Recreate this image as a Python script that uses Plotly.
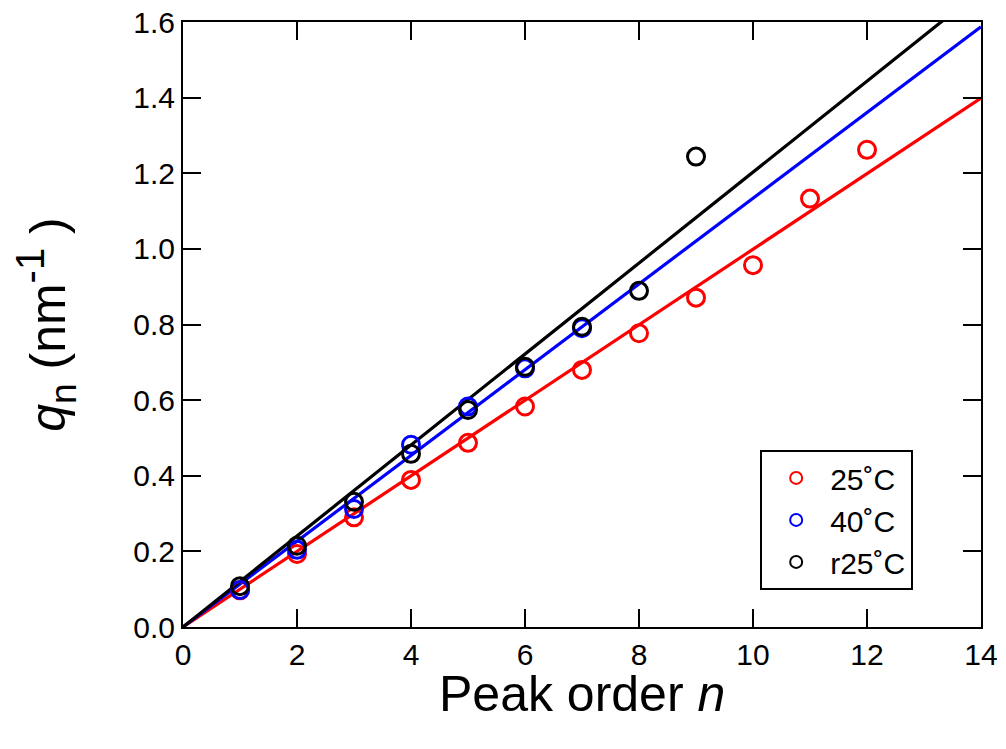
import plotly.graph_objects as go

# Data
n_25 = [1, 2, 3, 4, 5, 6, 7, 8, 9, 10, 11, 12]
q_25 = [0.097, 0.193, 0.290, 0.389, 0.487, 0.583, 0.680, 0.777, 0.871, 0.957, 1.133, 1.262]
n_40 = [1, 2, 3, 4, 5, 6, 7]
q_40 = [0.098, 0.204, 0.312, 0.482, 0.583, 0.684, 0.790]
n_r25 = [1, 2, 3, 4, 5, 6, 7, 8, 9]
q_r25 = [0.108, 0.215, 0.331, 0.458, 0.574, 0.688, 0.794, 0.889, 1.244]

# Linear fits through origin (slopes)
slope_25 = 0.0999
slope_40 = 0.1134
slope_r25 = 0.1203
fit_x = [0, 14]

x_ticks = [0, 2, 4, 6, 8, 10, 12, 14]
y_ticks = [0, 0.2, 0.4, 0.6, 0.8, 1.0, 1.2, 1.4, 1.6]

labels = ["25˚C", "40˚C", "r25˚C"]
colors = ["red", "blue", "black"]

fig = go.Figure()
for slope, c in zip([slope_25, slope_40, slope_r25], colors):
    fig.add_trace(go.Scatter(x=fit_x, y=[slope * v for v in fit_x], mode="lines",
                             line=dict(color=c, width=3.2), showlegend=False, hoverinfo="skip"))

for xs, ys, c, lab in zip([n_25, n_40, n_r25], [q_25, q_40, q_r25], colors, labels):
    fig.add_trace(go.Scatter(x=xs, y=ys, mode="markers", name=lab,
                             marker=dict(symbol="circle-open", size=17, color=c,
                                         line=dict(color=c, width=3))))

font_family = "Liberation Sans, Arial, Helvetica, sans-serif"
axis_common = dict(showline=True, linecolor="black", linewidth=2, mirror="ticks",
                   ticks="inside", ticklen=18, tickwidth=2, tickcolor="black",
                   showgrid=False, zeroline=False, ticklabeloverflow="allow",
                   automargin=False,
                   tickfont=dict(family=font_family, size=30, color="black"))

fig.update_layout(
    width=1006, height=749,
    margin=dict(l=175, r=33, t=14, b=130),
    paper_bgcolor="white", plot_bgcolor="white",
    font=dict(family=font_family, color="black"),
    xaxis=dict(range=[0, 14], tickvals=x_ticks, **axis_common),
    yaxis=dict(range=[0, 1.6], tickvals=y_ticks, tickformat=".1f",
               title=dict(text="<i>q</i><sub><span style='font-size:37px'>n</span></sub> (nm<sup><span style='font-size:40px'>-1</span></sup> )",
                          font=dict(size=50), standoff=56),
               **axis_common),
    annotations=[dict(text="Peak order <i>n</i>", xref="paper", yref="paper",
                      x=0.5, y=-0.110, xanchor="center", yanchor="middle",
                      showarrow=False, font=dict(size=50, family=font_family, color="black"))],
    legend=dict(x=0.915, y=0.177, xanchor="right", yanchor="middle",
                bordercolor="black", borderwidth=2, bgcolor="white",
                font=dict(family=font_family, size=30, color="black"),
                itemsizing="constant", itemwidth=58, tracegroupgap=0,
                entrywidth=120),
    showlegend=True,
)

fig.write_html("out.html")
